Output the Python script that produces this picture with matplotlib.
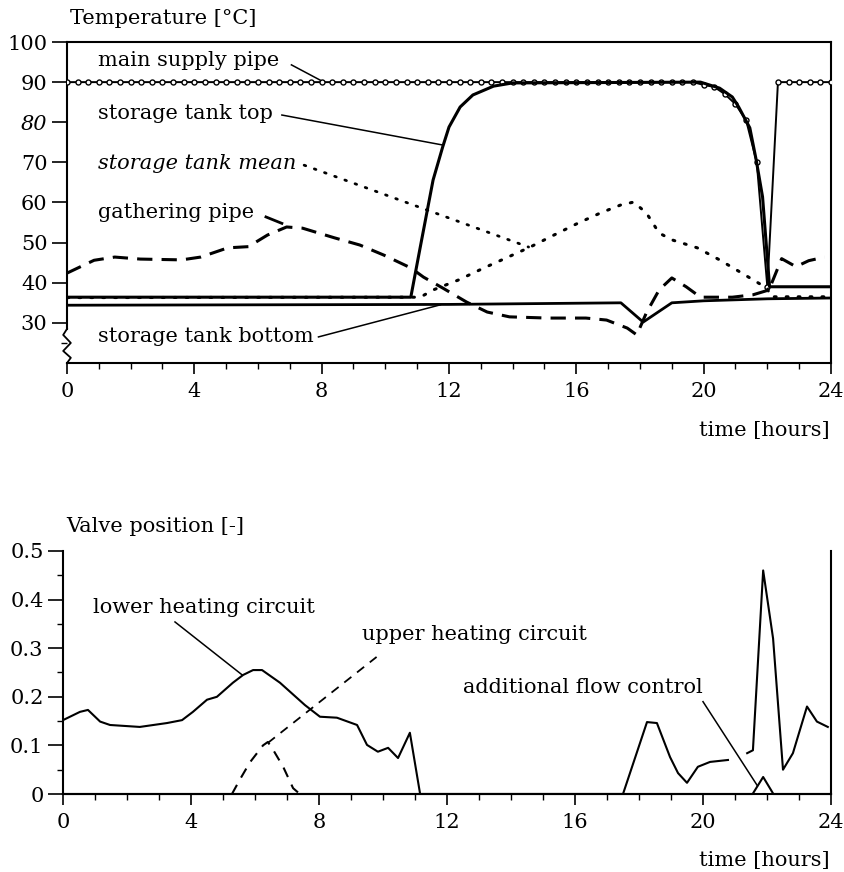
import numpy as np
import matplotlib
matplotlib.use("Agg")
import matplotlib.pyplot as plt
from matplotlib.ticker import MultipleLocator

plt.rcParams["font.family"] = ["DejaVu Serif"]
plt.rcParams["font.size"] = 15

# ---- top chart: temperatures [deg C] vs time [h]
supply_h = np.arange(0, 24.01, 1 / 3)
supply_T = [90, 90, 90, 90, 90, 90, 90, 90, 90, 90, 90, 90,
            90, 90, 90, 90, 90, 90, 90, 90, 90, 90, 90, 90,
            90, 90, 90, 90, 90, 90, 90, 90, 90, 90, 90, 90,
            90, 90, 90, 90, 90, 90, 90, 90, 90, 90, 90, 90,
            90, 90, 90, 90, 90, 90, 90, 90, 90, 90, 90, 90,
            89.3, 88.8, 87.0, 84.5, 80.5, 70.0, 39.0,
            90, 90, 90, 90, 90, 90]

top_h = [0, 10.8, 11.1, 11.5, 11.8, 12.0, 12.35, 12.75, 13.4, 14.0,
         19.9, 20.5, 20.9, 21.1, 21.45, 21.65, 21.85, 22.07, 24]
top_T = [36.4, 36.4, 49.0, 65.6, 73.8, 78.8, 83.8, 86.8, 89.0, 89.8,
         90.0, 88.5, 86.3, 83.8, 78.6, 70.6, 61.4, 39.0, 39.0]

mean_h = [0, 11.1, 11.5, 12.3, 13.1, 13.8, 14.55, 15.3, 16.04, 16.76,
          17.4, 17.8, 18.2, 18.6, 19.0, 19.8, 20.5, 21.2, 22.0, 22.1, 24]
mean_T = [36.3, 36.4, 38.2, 40.7, 43.7, 46.2, 48.9, 51.9, 54.8, 57.4,
          59.4, 60.1, 57.4, 52.4, 50.7, 48.7, 45.7, 42.4, 38.6, 36.5, 36.5]

gather_h = [0, 0.85, 1.5, 2.3, 3.6, 4.2, 5.05, 5.7, 6.3, 6.9, 7.4, 8.4,
            9.2, 9.95, 10.8, 11.2, 11.8, 12.55, 13.2, 13.9, 15.1, 16.3,
            16.95, 17.6, 17.9, 18.2, 18.6, 19.0, 19.45, 19.9, 20.4, 20.9,
            21.55, 22.05, 22.45, 22.9, 23.3, 23.8]
gather_T = [42.4, 45.6, 46.4, 45.9, 45.7, 46.4, 48.7, 49.0, 51.9, 53.9,
            53.6, 51.2, 49.4, 46.9, 43.7, 41.4, 38.7, 35.2, 32.7, 31.5,
            31.2, 31.2, 30.7, 28.7, 27.0, 32.5, 38.2, 41.2, 39.0, 36.4,
            36.4, 36.4, 37.0, 38.2, 46.0, 44.0, 45.5, 46.4]

bottom_h = [0, 12.0, 17.4, 18.1, 19.0, 20.0, 22.0, 24]
bottom_T = [34.4, 34.6, 35.0, 30.2, 35.0, 35.5, 36.0, 36.2]

# ---- bottom chart: valve positions [-]
lower_h = [0, 0.53, 0.78, 1.16, 1.47, 2.4, 3.25, 3.72, 4.06, 4.5, 4.81,
           5.31, 5.63, 5.94, 6.22, 6.78, 7.56, 8.03, 8.56, 9.19, 9.5, 9.84,
           10.16, 10.47, 10.84, 11.16, 17.5, 18.25, 18.56, 18.97, 19.22,
           19.5, 19.84, 20.22, 20.78, 21.1, 21.38, 21.56, 21.88, 22.19,
           22.5, 22.81, 23.25, 23.56, 23.9]
lower_v = [0.152, 0.169, 0.173, 0.149, 0.142, 0.138, 0.146, 0.152, 0.169,
           0.194, 0.200, 0.229, 0.245, 0.255, 0.255, 0.229, 0.183, 0.159,
           0.157, 0.142, 0.101, 0.087, 0.095, 0.074, 0.126, 0.0, 0.0,
           0.148, 0.146, 0.076, 0.043, 0.023, 0.056, 0.066, 0.070, np.nan,
           0.084, 0.090, 0.460, 0.320, 0.050, 0.084, 0.180, 0.149, 0.138]

upper_h = [5.28, 5.53, 5.84, 6.25, 6.4, 6.53, 6.88, 7.19, 7.4]
upper_v = [0.0, 0.03, 0.065, 0.10, 0.107, 0.095, 0.056, 0.012, 0.0]

extra_h = [0, 21.55, 21.88, 22.2, 24]
extra_v = [0.0, 0.0, 0.035, 0.0, 0.0]

DOTS = (0, (0.6, 3.3))

fig = plt.figure(figsize=(8.45, 8.72), dpi=100)
ax1 = fig.add_axes([67 / 845, 1 - 363 / 872, 764 / 845, 321 / 872])
ax2 = fig.add_axes([63 / 845, 1 - 794 / 872, 768 / 845, 243 / 872])

for ax in (ax1, ax2):
    for s in ax.spines.values():
        s.set_linewidth(1.5)
    ax.set_xlim(0, 24)
    ax.xaxis.set_major_locator(MultipleLocator(4))
    ax.xaxis.set_minor_locator(MultipleLocator(1))
    ax.tick_params(which="major", direction="out", length=8, width=1.2,
                   pad=6, labelsize=15)
    ax.tick_params(axis="y", which="major", length=11, pad=3)
    ax.tick_params(which="minor", direction="out", length=4, width=1)

# --- top
ax1.set_ylim(20, 100)
ax1.set_yticks(range(30, 101, 10))
ax1.yaxis.set_minor_locator(MultipleLocator(5))
ax1.set_yticks([25], minor=True)
ax1.spines["left"].set_bounds(28.5, 100)
for lab in ax1.get_yticklabels():
    if lab.get_text() == "80":
        lab.set_style("italic")

ax1.plot(supply_h, supply_T, color="black", lw=1.4, marker="o", ms=3.6,
         mfc="white", mec="black", mew=1.0, zorder=3)
ax1.plot(top_h, top_T, color="black", lw=2.2, zorder=4)
ax1.plot(mean_h, mean_T, color="black", lw=2.2, ls=DOTS,
         dash_capstyle="round", zorder=3)
ax1.plot(gather_h, gather_T, color="black", lw=2.2, ls=(0, (5, 3)), zorder=3)
ax1.plot(bottom_h, bottom_T, color="black", lw=2.0, zorder=4)

# axis break on the left spine
ax1.plot([0, -0.12, 0.12, -0.12, 0.12, 0], [28.5, 27.0, 25.0, 23.0, 21.3, 20],
         color="black", lw=1.3, clip_on=False, zorder=5)

ax1.text(0.97, 95.5, "main supply pipe", va="center")
ax1.text(0.97, 82.3, "storage tank top", va="center")
ax1.text(0.97, 69.8, "storage tank mean", va="center", style="italic")
ax1.text(0.97, 57.6, "gathering pipe", va="center")
ax1.text(0.97, 26.5, "storage tank bottom", va="center")

ax1.plot([7.05, 8.0], [94.3, 90.3], color="black", lw=1.1)
ax1.plot([6.75, 11.82], [81.8, 74.3], color="black", lw=1.1)
ax1.plot([7.45, 14.5], [69.3, 48.9], color="black", lw=2.0, ls=DOTS,
         dash_capstyle="round")
ax1.plot([6.25, 6.75], [56.4, 54.8], color="black", lw=2.0)
ax1.plot([7.9, 11.73], [26.5, 34.5], color="black", lw=1.1)

fig.text(70 / 845, 1 - 18 / 872, "Temperature [°C]", va="center")
fig.text(830 / 845, 1 - 430 / 872, "time [hours]", va="center", ha="right")

# --- bottom
ax2.set_ylim(0, 0.5)
ax2.set_yticks([0, 0.1, 0.2, 0.3, 0.4, 0.5])
ax2.set_yticklabels(["0", "0.1", "0.2", "0.3", "0.4", "0.5"])
ax2.yaxis.set_minor_locator(MultipleLocator(0.05))
ax2.spines["top"].set_visible(False)

ax2.plot(lower_h, lower_v, color="black", lw=1.5, zorder=3)
ax2.plot(upper_h, upper_v, color="black", lw=1.5, ls=(0, (5, 4)), zorder=3)
ax2.plot(extra_h, extra_v, color="black", lw=1.5, zorder=3, clip_on=False)

ax2.text(0.94, 0.383, "lower heating circuit", va="center")
ax2.text(9.34, 0.328, "upper heating circuit", va="center")
ax2.text(12.5, 0.22, "additional flow control", va="center")

ax2.plot([3.5, 5.6], [0.354, 0.245], color="black", lw=1.1)
ax2.plot([6.4, 9.8], [0.105, 0.282], color="black", lw=1.3, ls=(0, (5, 4)))
ax2.plot([20.0, 21.7], [0.19, 0.017], color="black", lw=1.1)

fig.text(66 / 845, 1 - 527 / 872, "Valve position [-]", va="center")
fig.text(830 / 845, 1 - 860 / 872, "time [hours]", va="center", ha="right")

fig.savefig("out.png", dpi=100)
